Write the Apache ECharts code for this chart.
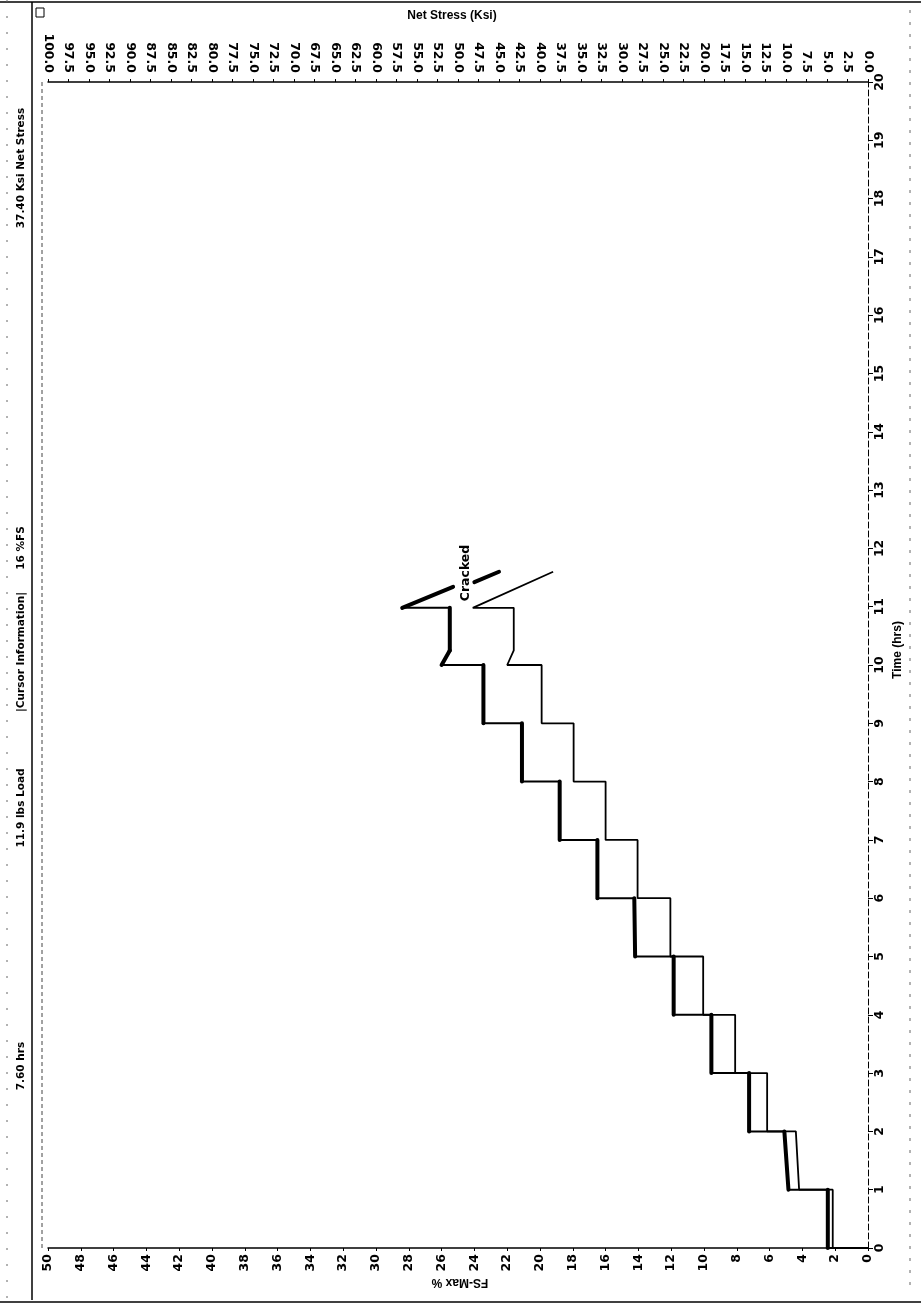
<!DOCTYPE html>
<html>
<head>
<meta charset="utf-8">
<script src="https://cdn.jsdelivr.net/npm/echarts@6/dist/echarts.min.js"></script>
<style>
  html, body { margin: 0; padding: 0; background: #fff; }
  #chart { width: 921px; height: 1306px; }
</style>
</head>
<body>
<div id="chart"></div>
<script>
// ---- Data (time in hrs, FS-Max in %) ----
const thickTime = [0, 0, 1, 1, 2, 2, 3, 3, 4, 4, 5, 5, 6, 6, 7, 7, 8, 8, 9, 9, 10, 10, 10.25, 10.98, 10.98, 11.34];
const thickFS   = [0, 2.45, 2.45, 4.85, 5.1, 7.25, 7.25, 9.55, 9.55, 11.85, 11.85, 14.2, 14.25, 16.5, 16.5, 18.8, 18.8, 21.1, 21.1, 23.45, 23.45, 26.0, 25.5, 25.5, 28.4, 25.3];
const thickTailTime = [11.42, 11.6];
const thickTailFS   = [24.0, 22.5];

const thinTime = [0, 0, 1, 1, 2, 2, 3, 3, 4, 4, 5, 5, 6, 6, 7, 7, 8, 8, 9, 9, 10, 10, 10.25, 10.98, 10.98, 11.6];
const thinFS   = [0, 2.15, 2.15, 4.2, 4.4, 6.15, 6.15, 8.1, 8.1, 10.05, 10.05, 12.05, 12.05, 14.05, 14.05, 16.0, 16.0, 17.95, 17.95, 19.9, 19.9, 22.0, 21.6, 21.6, 24.1, 19.2];

// Axis ranges / tick steps
const fsRange = [0, 50], fsStep = 2;
const stressRange = [0, 100], stressStep = 2.5;
const timeRange = [0, 20], timeStep = 1;

// Texts
const cursorInfo = [
  { text: '37.40 Ksi Net Stress', y: 168 },
  { text: '16 %FS', y: 548 },
  { text: '|Cursor Information|', y: 652 },
  { text: '11.9 lbs Load', y: 808 },
  { text: '7.60 hrs', y: 1066 }
];
const crackLabel = 'Cracked';
const titles = { stress: 'Net Stress (Ksi)', fs: 'FS-Max %', time: 'Time (hrs)' };

// ---- Build ----
const zip = (ts, fs) => ts.map((t, i) => [fs[i], t]);
const thickPts = zip(thickTime, thickFS);
const thickTail = zip(thickTailTime, thickTailFS);
const thinPts = zip(thinTime, thinFS);

// heavy plateau overlay (segments where time advances) for the thick trace
function plateauSegments(pts) {
  const segs = [];
  for (let i = 0; i < pts.length - 1; i++) {
    if (pts[i + 1][1] !== pts[i][1]) segs.push([pts[i], pts[i + 1]]);
  }
  return segs;
}
const heavySegs = plateauSegments(thickPts).concat([thickTail]);

const labelFont = { color: '#000', fontFamily: 'DejaVu Sans', fontWeight: 'bold', fontSize: 12.5 };

const series = [];
series.push({ type: 'line', data: thinPts, showSymbol: false, lineStyle: { color: '#000', width: 1.8 }, z: 3 });
series.push({ type: 'line', data: thickPts, showSymbol: false, lineStyle: { color: '#000', width: 2 }, z: 3 });
heavySegs.forEach(s => series.push({ type: 'line', data: s, showSymbol: false, lineStyle: { color: '#000', width: 4, cap: 'round' }, z: 4 }));

const graphic = [
  // frame lines
  { type: 'line', shape: { x1: 0, y1: 2, x2: 921, y2: 2 }, style: { stroke: '#000', lineWidth: 1.5 } },
  { type: 'line', shape: { x1: 0, y1: 1302, x2: 921, y2: 1302 }, style: { stroke: '#000', lineWidth: 1.5 } },
  { type: 'line', shape: { x1: 32, y1: 2, x2: 32, y2: 1300 }, style: { stroke: '#000', lineWidth: 1.5 } },
  { type: 'line', shape: { x1: 42, y1: 82, x2: 42, y2: 1248 }, style: { stroke: '#444', lineWidth: 1, lineDash: [4, 3] } },
  { type: 'line', shape: { x1: 7, y1: 0, x2: 7, y2: 1306 }, style: { stroke: '#666', lineWidth: 1, lineDash: [2, 14] } },
  { type: 'line', shape: { x1: 910, y1: 10, x2: 910, y2: 1290 }, style: { stroke: '#666', lineWidth: 1, lineDash: [3, 9] } },
  // small icon
  { type: 'rect', shape: { x: 36, y: 8, width: 8, height: 9 }, style: { fill: 'none', stroke: '#000', lineWidth: 1 } },
  // titles
  { type: 'text', x: 452, y: 16, style: { text: titles.stress, fill: '#000', font: 'bold 12px "Liberation Sans"', align: 'center', verticalAlign: 'middle' } },
  { type: 'text', x: 460, y: 1282, rotation: Math.PI, style: { text: titles.fs, fill: '#000', font: 'bold 12px "Liberation Sans"', align: 'center', verticalAlign: 'middle' } },
  { type: 'text', x: 898, y: 650, rotation: Math.PI / 2, style: { text: titles.time, fill: '#000', font: 'bold 12px "Liberation Sans"', align: 'center', verticalAlign: 'middle' } },
  { type: 'text', x: 466, y: 573, rotation: Math.PI / 2, z: 10, style: { text: crackLabel, fill: '#000', font: 'bold 12.5px "DejaVu Sans"', align: 'center', verticalAlign: 'middle' } }
];
cursorInfo.forEach(c => graphic.push({ type: 'text', x: 21, y: c.y, rotation: Math.PI / 2, style: { text: c.text, fill: '#000', font: 'bold 10.5px "DejaVu Sans"', align: 'center', verticalAlign: 'middle' } }));

const option = {
  animation: false,
  backgroundColor: '#fff',
  grid: { left: 48, right: 53, top: 82, bottom: 58, containLabel: false },
  xAxis: [
    {
      type: 'value', position: 'bottom', min: fsRange[0], max: fsRange[1], interval: fsStep, inverse: true,
      axisLine: { show: true, onZero: false, lineStyle: { color: '#000', width: 1.5 } },
      axisTick: { show: true, length: 3, lineStyle: { color: '#000' } },
      axisLabel: Object.assign({ rotate: 90, margin: 6 }, labelFont),
      splitLine: { show: false }
    },
    {
      type: 'value', position: 'top', min: stressRange[0], max: stressRange[1], interval: stressStep, inverse: true,
      axisLine: { show: true, onZero: false, lineStyle: { color: '#000', width: 1.5 } },
      axisTick: { show: true, length: 3, lineStyle: { color: '#000' } },
      axisLabel: Object.assign({ rotate: 90, margin: 9, formatter: v => v.toFixed(1) }, labelFont),
      splitLine: { show: false }
    }
  ],
  yAxis: {
    type: 'value', position: 'right', min: timeRange[0], max: timeRange[1], interval: timeStep,
    axisLine: { show: true, onZero: false, lineStyle: { color: '#000', width: 1, type: [6, 3] } },
    axisTick: { show: true, length: 5, lineStyle: { color: '#000' } },
    axisLabel: Object.assign({ rotate: 90, margin: 5 }, labelFont),
    splitLine: { show: false }
  },
  graphic: graphic,
  series: series
};

const chart = echarts.init(document.getElementById('chart'), null, { renderer: 'canvas' });
chart.setOption(option);
</script>
</body>
</html>
